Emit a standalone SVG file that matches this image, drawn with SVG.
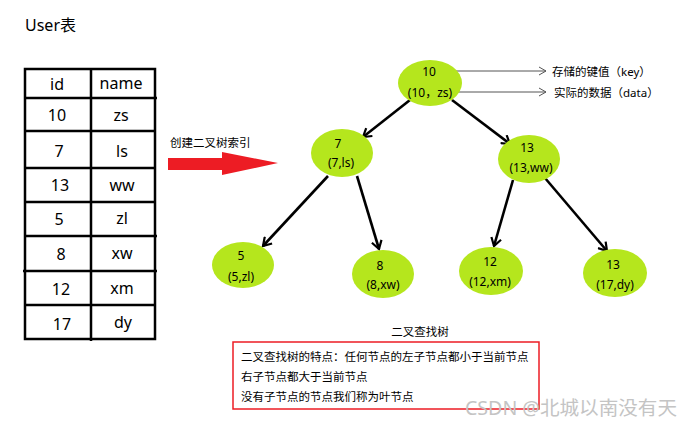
<svg xmlns="http://www.w3.org/2000/svg" width="692" height="427" viewBox="0 0 692 427">
<defs>
<marker id="v" viewBox="0 0 12 12" refX="10" refY="6" markerWidth="12" markerHeight="12" markerUnits="userSpaceOnUse" orient="auto">
<polyline points="2,1 10,6 2,11" fill="none" stroke="#000" stroke-width="2.2"/>
</marker>
<marker id="g" viewBox="0 0 10 10" refX="9" refY="5" markerWidth="10" markerHeight="10" markerUnits="userSpaceOnUse" orient="auto">
<polyline points="2,1 9,5 2,9" fill="none" stroke="#555" stroke-width="1"/>
</marker>
</defs>
<style>
text{font-family:"Noto Sans","Noto Sans CJK SC",sans-serif;fill:#000}
.cell{font-size:16px;text-anchor:middle}
.n{font-size:12px;text-anchor:middle}
.s{font-size:11.5px}
.node ellipse{fill:#b5e61d;stroke:none}
.edge{stroke:#000;stroke-width:2.6;fill:none;marker-end:url(#v)}
.ann{stroke:#555;stroke-width:1;fill:none;marker-end:url(#g)}
.grid{stroke:#000;stroke-width:2.5;fill:none}
</style>
<rect width="692" height="427" fill="#fff"/>
<text x="25" y="31" font-size="16">User表</text>
<g id="table">
<rect class="grid" x="25" y="69" width="130" height="270"/>
<line class="grid" x1="91" y1="68" x2="91" y2="341"/>
<line class="grid" x1="25" y1="98" x2="157" y2="98"/>
<line class="grid" x1="25" y1="131" x2="155" y2="131"/>
<line class="grid" x1="25" y1="168" x2="155" y2="168"/>
<line class="grid" x1="25" y1="202" x2="155" y2="202"/>
<line class="grid" x1="25" y1="236" x2="157" y2="236"/>
<line class="grid" x1="23" y1="271" x2="157" y2="271"/>
<line class="grid" x1="25" y1="305" x2="155" y2="305"/>
<text class="cell" x="57" y="90">id</text><text class="cell" x="121" y="89">name</text>
<text class="cell" x="57" y="121">10</text><text class="cell" x="121" y="121">zs</text>
<text class="cell" x="59" y="157">7</text><text class="cell" x="122" y="157">ls</text>
<text class="cell" x="60" y="191">13</text><text class="cell" x="122" y="191">ww</text>
<text class="cell" x="59" y="225">5</text><text class="cell" x="122" y="224">zl</text>
<text class="cell" x="61" y="260">8</text><text class="cell" x="122" y="259">xw</text>
<text class="cell" x="61" y="295">12</text><text class="cell" x="122" y="294">xm</text>
<text class="cell" x="62" y="330">17</text><text class="cell" x="123" y="328">dy</text>
</g>
<g id="build-arrow">
<text class="s" x="170" y="147">创建二叉树索引</text>
<polygon points="168,158 222,158 222,152 278,163 222,175 222,170 168,170" fill="#ed1c24"/>
</g>
<g id="connectors">
<line class="edge" x1="410" y1="100" x2="363" y2="137"/>
<line class="edge" x1="452" y1="100" x2="510" y2="144"/>
<line class="edge" x1="328" y1="176" x2="263" y2="246"/>
<line class="edge" x1="357" y1="176" x2="379" y2="249"/>
<line class="edge" x1="513" y1="180" x2="494" y2="246"/>
<line class="edge" x1="545" y1="178" x2="607" y2="251"/>
<line class="ann" x1="440" y1="71" x2="546" y2="71"/>
<line class="ann" x1="458" y1="92" x2="546" y2="92"/>
</g>
<g id="n10" class="node"><ellipse cx="430" cy="83" rx="32" ry="23"/><text class="n" x="429" y="76">10</text><text class="n" x="430" y="97">(10，zs)</text></g>
<g id="n7" class="node"><ellipse cx="342" cy="153" rx="31" ry="24"/><text class="n" x="338" y="148">7</text><text class="n" x="341" y="167">(7,ls)</text></g>
<g id="n13" class="node"><ellipse cx="529" cy="159" rx="31" ry="24"/><text class="n" x="527" y="152">13</text><text class="n" x="531" y="172">(13,ww)</text></g>
<g id="n5" class="node"><ellipse cx="243" cy="265" rx="31" ry="23"/><text class="n" x="241" y="260">5</text><text class="n" x="241" y="281">(5,zl)</text></g>
<g id="n8" class="node"><ellipse cx="383" cy="274" rx="31" ry="24"/><text class="n" x="380" y="270">8</text><text class="n" x="383" y="289">(8,xw)</text></g>
<g id="n12" class="node"><ellipse cx="491" cy="271" rx="32" ry="24"/><text class="n" x="490" y="266">12</text><text class="n" x="490" y="286">(12,xm)</text></g>
<g id="n17" class="node"><ellipse cx="615" cy="273" rx="32" ry="24"/><text class="n" x="613" y="269">13</text><text class="n" x="615" y="289">(17,dy)</text></g>
<g id="labels">
<text class="s" x="552" y="76">存储的键值（key）</text>
<text class="s" x="554" y="97">实际的数据（data）</text>
<text class="s" x="420" y="336" text-anchor="middle">二叉查找树</text>
</g>
<g id="note">
<rect x="233" y="342" width="306" height="67" fill="none" stroke="#ed1c24" stroke-width="1.5"/>
<text class="s" x="241" y="361">二叉查找树的特点：任何节点的左子节点都小于当前节点</text>
<text class="s" x="241" y="381">右子节点都大于当前节点</text>
<text class="s" x="241" y="401">没有子节点的节点我们称为叶节点</text>
</g>
<text x="465" y="415" font-size="16" textLength="212" lengthAdjust="spacingAndGlyphs" style="fill:#c4c4c4;font-size:19px">CSDN @北城以南没有天</text>
</svg>
